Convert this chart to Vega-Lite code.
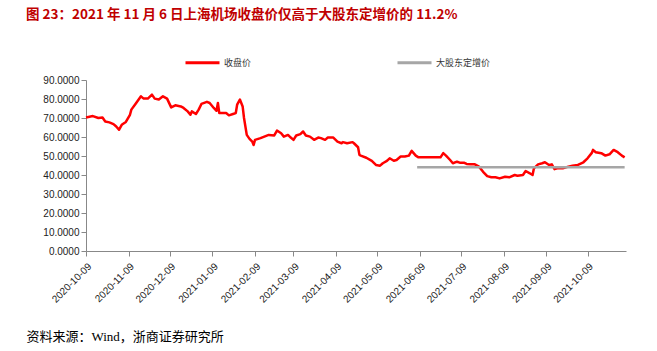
{
  "$schema": "https://vega.github.io/schema/vega-lite/v6.json",
  "autosize": {"type": "none"},
  "width": 540,
  "height": 171,
  "padding": {"left": 86, "top": 80, "right": 31, "bottom": 100},
  "background": "white",
  "title": {
    "text": "图 23：2021 年 11 月 6 日上海机场收盘价仅高于大股东定增价的 11.2%",
    "anchor": "start",
    "frame": "group",
    "dx": -60,
    "offset": 23,
    "font": "Noto Sans CJK SC",
    "fontSize": 13.5,
    "fontWeight": "bold",
    "color": "#C00000"
  },
  "config": {
    "view": {"stroke": null},
    "axis": {"grid": false, "domainColor": "#888888", "tickColor": "#888888", "labelColor": "#222222", "labelFont": "Liberation Sans", "labelFontSize": 10}
  },
  "data": {
    "values": [
      {"date": "2020-10-09", "series": "收盘价", "value": 70.3},
      {"date": "2020-10-14", "series": "收盘价", "value": 71.0},
      {"date": "2020-10-18", "series": "收盘价", "value": 70.0},
      {"date": "2020-10-21", "series": "收盘价", "value": 70.3},
      {"date": "2020-10-23", "series": "收盘价", "value": 68.2},
      {"date": "2020-10-26", "series": "收盘价", "value": 67.7},
      {"date": "2020-10-29", "series": "收盘价", "value": 66.8},
      {"date": "2020-10-31", "series": "收盘价", "value": 65.5},
      {"date": "2020-11-02", "series": "收盘价", "value": 63.8},
      {"date": "2020-11-04", "series": "收盘价", "value": 66.4},
      {"date": "2020-11-07", "series": "收盘价", "value": 67.9},
      {"date": "2020-11-10", "series": "收盘价", "value": 71.7},
      {"date": "2020-11-11", "series": "收盘价", "value": 74.4},
      {"date": "2020-11-14", "series": "收盘价", "value": 77.4},
      {"date": "2020-11-18", "series": "收盘价", "value": 81.4},
      {"date": "2020-11-20", "series": "收盘价", "value": 80.2},
      {"date": "2020-11-23", "series": "收盘价", "value": 80.2},
      {"date": "2020-11-26", "series": "收盘价", "value": 82.3},
      {"date": "2020-11-28", "series": "收盘价", "value": 80.2},
      {"date": "2020-12-01", "series": "收盘价", "value": 79.7},
      {"date": "2020-12-04", "series": "收盘价", "value": 81.4},
      {"date": "2020-12-07", "series": "收盘价", "value": 80.2},
      {"date": "2020-12-10", "series": "收盘价", "value": 75.6},
      {"date": "2020-12-13", "series": "收盘价", "value": 76.7},
      {"date": "2020-12-17", "series": "收盘价", "value": 76.1},
      {"date": "2020-12-19", "series": "收盘价", "value": 75.3},
      {"date": "2020-12-22", "series": "收盘价", "value": 73.5},
      {"date": "2020-12-24", "series": "收盘价", "value": 71.7},
      {"date": "2020-12-25", "series": "收盘价", "value": 73.5},
      {"date": "2020-12-28", "series": "收盘价", "value": 72.1},
      {"date": "2020-12-30", "series": "收盘价", "value": 74.4},
      {"date": "2021-01-01", "series": "收盘价", "value": 77.4},
      {"date": "2021-01-05", "series": "收盘价", "value": 78.5},
      {"date": "2021-01-07", "series": "收盘价", "value": 77.9},
      {"date": "2021-01-10", "series": "收盘价", "value": 75.3},
      {"date": "2021-01-12", "series": "收盘价", "value": 73.8},
      {"date": "2021-01-13", "series": "收盘价", "value": 77.9},
      {"date": "2021-01-14", "series": "收盘价", "value": 72.6},
      {"date": "2021-01-17", "series": "收盘价", "value": 72.6},
      {"date": "2021-01-19", "series": "收盘价", "value": 72.6},
      {"date": "2021-01-21", "series": "收盘价", "value": 71.4},
      {"date": "2021-01-24", "series": "收盘价", "value": 72.1},
      {"date": "2021-01-26", "series": "收盘价", "value": 72.6},
      {"date": "2021-01-27", "series": "收盘价", "value": 77.0},
      {"date": "2021-01-29", "series": "收盘价", "value": 79.7},
      {"date": "2021-01-31", "series": "收盘价", "value": 76.1},
      {"date": "2021-02-01", "series": "收盘价", "value": 70.0},
      {"date": "2021-02-03", "series": "收盘价", "value": 61.1},
      {"date": "2021-02-05", "series": "收盘价", "value": 59.0},
      {"date": "2021-02-07", "series": "收盘价", "value": 57.6},
      {"date": "2021-02-08", "series": "收盘价", "value": 55.8},
      {"date": "2021-02-09", "series": "收盘价", "value": 58.5},
      {"date": "2021-02-13", "series": "收盘价", "value": 59.4},
      {"date": "2021-02-19", "series": "收盘价", "value": 61.1},
      {"date": "2021-02-23", "series": "收盘价", "value": 60.8},
      {"date": "2021-02-25", "series": "收盘价", "value": 63.4},
      {"date": "2021-02-28", "series": "收盘价", "value": 62.0},
      {"date": "2021-03-02", "series": "收盘价", "value": 60.2},
      {"date": "2021-03-05", "series": "收盘价", "value": 61.1},
      {"date": "2021-03-07", "series": "收盘价", "value": 59.7},
      {"date": "2021-03-09", "series": "收盘价", "value": 58.5},
      {"date": "2021-03-11", "series": "收盘价", "value": 60.8},
      {"date": "2021-03-14", "series": "收盘价", "value": 61.5},
      {"date": "2021-03-16", "series": "收盘价", "value": 62.9},
      {"date": "2021-03-18", "series": "收盘价", "value": 60.8},
      {"date": "2021-03-21", "series": "收盘价", "value": 60.2},
      {"date": "2021-03-24", "series": "收盘价", "value": 58.5},
      {"date": "2021-03-27", "series": "收盘价", "value": 59.7},
      {"date": "2021-03-29", "series": "收盘价", "value": 59.4},
      {"date": "2021-04-01", "series": "收盘价", "value": 58.5},
      {"date": "2021-04-03", "series": "收盘价", "value": 59.7},
      {"date": "2021-04-07", "series": "收盘价", "value": 59.7},
      {"date": "2021-04-10", "series": "收盘价", "value": 57.6},
      {"date": "2021-04-13", "series": "收盘价", "value": 56.7},
      {"date": "2021-04-14", "series": "收盘价", "value": 57.3},
      {"date": "2021-04-17", "series": "收盘价", "value": 56.7},
      {"date": "2021-04-21", "series": "收盘价", "value": 57.3},
      {"date": "2021-04-22", "series": "收盘价", "value": 56.7},
      {"date": "2021-04-25", "series": "收盘价", "value": 54.6},
      {"date": "2021-04-26", "series": "收盘价", "value": 50.6},
      {"date": "2021-04-27", "series": "收盘价", "value": 50.2},
      {"date": "2021-05-01", "series": "收盘价", "value": 49.1},
      {"date": "2021-05-05", "series": "收盘价", "value": 47.4},
      {"date": "2021-05-08", "series": "收盘价", "value": 45.3},
      {"date": "2021-05-11", "series": "收盘价", "value": 44.9},
      {"date": "2021-05-13", "series": "收盘价", "value": 46.2},
      {"date": "2021-05-16", "series": "收盘价", "value": 47.4},
      {"date": "2021-05-18", "series": "收盘价", "value": 48.8},
      {"date": "2021-05-21", "series": "收盘价", "value": 47.5},
      {"date": "2021-05-23", "series": "收盘价", "value": 47.9},
      {"date": "2021-05-26", "series": "收盘价", "value": 49.7},
      {"date": "2021-05-29", "series": "收盘价", "value": 49.7},
      {"date": "2021-06-01", "series": "收盘价", "value": 50.2},
      {"date": "2021-06-03", "series": "收盘价", "value": 52.7},
      {"date": "2021-06-06", "series": "收盘价", "value": 50.2},
      {"date": "2021-06-08", "series": "收盘价", "value": 49.3},
      {"date": "2021-06-14", "series": "收盘价", "value": 49.3},
      {"date": "2021-06-20", "series": "收盘价", "value": 49.3},
      {"date": "2021-06-24", "series": "收盘价", "value": 49.3},
      {"date": "2021-06-26", "series": "收盘价", "value": 51.5},
      {"date": "2021-06-28", "series": "收盘价", "value": 50.2},
      {"date": "2021-07-01", "series": "收盘价", "value": 47.9},
      {"date": "2021-07-03", "series": "收盘价", "value": 46.2},
      {"date": "2021-07-06", "series": "收盘价", "value": 47.0},
      {"date": "2021-07-08", "series": "收盘价", "value": 46.5},
      {"date": "2021-07-11", "series": "收盘价", "value": 46.5},
      {"date": "2021-07-13", "series": "收盘价", "value": 45.8},
      {"date": "2021-07-16", "series": "收盘价", "value": 45.6},
      {"date": "2021-07-19", "series": "收盘价", "value": 45.6},
      {"date": "2021-07-22", "series": "收盘价", "value": 44.4},
      {"date": "2021-07-25", "series": "收盘价", "value": 41.7},
      {"date": "2021-07-28", "series": "收盘价", "value": 39.4},
      {"date": "2021-07-31", "series": "收盘价", "value": 38.8},
      {"date": "2021-08-03", "series": "收盘价", "value": 38.8},
      {"date": "2021-08-06", "series": "收盘价", "value": 38.2},
      {"date": "2021-08-10", "series": "收盘价", "value": 39.1},
      {"date": "2021-08-13", "series": "收盘价", "value": 38.8},
      {"date": "2021-08-17", "series": "收盘价", "value": 40.0},
      {"date": "2021-08-19", "series": "收盘价", "value": 39.6},
      {"date": "2021-08-23", "series": "收盘价", "value": 40.0},
      {"date": "2021-08-25", "series": "收盘价", "value": 42.1},
      {"date": "2021-08-28", "series": "收盘价", "value": 40.9},
      {"date": "2021-08-30", "series": "收盘价", "value": 40.0},
      {"date": "2021-08-31", "series": "收盘价", "value": 43.5},
      {"date": "2021-09-03", "series": "收盘价", "value": 45.6},
      {"date": "2021-09-06", "series": "收盘价", "value": 46.2},
      {"date": "2021-09-08", "series": "收盘价", "value": 46.7},
      {"date": "2021-09-11", "series": "收盘价", "value": 45.3},
      {"date": "2021-09-13", "series": "收盘价", "value": 45.6},
      {"date": "2021-09-15", "series": "收盘价", "value": 43.1},
      {"date": "2021-09-17", "series": "收盘价", "value": 43.5},
      {"date": "2021-09-21", "series": "收盘价", "value": 43.5},
      {"date": "2021-09-25", "series": "收盘价", "value": 44.4},
      {"date": "2021-09-28", "series": "收盘价", "value": 44.9},
      {"date": "2021-10-02", "series": "收盘价", "value": 45.3},
      {"date": "2021-10-06", "series": "收盘价", "value": 46.7},
      {"date": "2021-10-09", "series": "收盘价", "value": 48.8},
      {"date": "2021-10-12", "series": "收盘价", "value": 51.5},
      {"date": "2021-10-13", "series": "收盘价", "value": 53.2},
      {"date": "2021-10-15", "series": "收盘价", "value": 52.0},
      {"date": "2021-10-19", "series": "收盘价", "value": 51.5},
      {"date": "2021-10-22", "series": "收盘价", "value": 50.2},
      {"date": "2021-10-25", "series": "收盘价", "value": 50.9},
      {"date": "2021-10-28", "series": "收盘价", "value": 53.2},
      {"date": "2021-10-31", "series": "收盘价", "value": 52.0},
      {"date": "2021-11-03", "series": "收盘价", "value": 50.2},
      {"date": "2021-11-05", "series": "收盘价", "value": 49.3},
      {"date": "2021-06-07", "series": "大股东定增价", "value": 44.09},
      {"date": "2021-11-05", "series": "大股东定增价", "value": 44.09}
    ]
  },
  "mark": {"type": "line", "strokeWidth": 2.5, "strokeJoin": "round"},
  "encoding": {
    "x": {
      "field": "date",
      "type": "temporal",
      "scale": {"type": "utc", "domain": [{"year": 2020, "month": 10, "date": 9, "utc": true}, {"year": 2021, "month": 11, "date": 6, "utc": true}]},
      "axis": {
        "values": [
          {"year": 2020, "month": 10, "date": 9, "utc": true},
          {"year": 2020, "month": 11, "date": 9, "utc": true},
          {"year": 2020, "month": 12, "date": 9, "utc": true},
          {"year": 2021, "month": 1, "date": 9, "utc": true},
          {"year": 2021, "month": 2, "date": 9, "utc": true},
          {"year": 2021, "month": 3, "date": 9, "utc": true},
          {"year": 2021, "month": 4, "date": 9, "utc": true},
          {"year": 2021, "month": 5, "date": 9, "utc": true},
          {"year": 2021, "month": 6, "date": 9, "utc": true},
          {"year": 2021, "month": 7, "date": 9, "utc": true},
          {"year": 2021, "month": 8, "date": 9, "utc": true},
          {"year": 2021, "month": 9, "date": 9, "utc": true},
          {"year": 2021, "month": 10, "date": 9, "utc": true}
        ],
        "labelExpr": "utcFormat(datum.value, '%Y-%m-%d')",
        "labelOverlap": false,
        "labelAngle": -45,
        "labelAlign": "right",
        "labelBaseline": "top",
        "labelFontSize": 10,
        "labelPadding": 5,
        "tickSize": 5,
        "title": "资料来源：Wind，浙商证券研究所",
        "titleFont": "Liberation Serif, Noto Sans CJK SC",
        "titleFontSize": 13,
        "titleFontWeight": "normal",
        "titleColor": "#000000",
        "titleAnchor": "start",
        "titleAlign": "left",
        "titleBaseline": "top",
        "titleX": -60,
        "titleY": 79
      }
    },
    "y": {
      "field": "value",
      "type": "quantitative",
      "scale": {"domain": [0, 90], "nice": false},
      "axis": {"values": [0, 10, 20, 30, 40, 50, 60, 70, 80, 90], "format": ".4f", "title": null, "tickSize": 5, "labelPadding": 2}
    },
    "color": {
      "field": "series",
      "type": "nominal",
      "scale": {"domain": ["收盘价", "大股东定增价"], "range": ["#FF0000", "#A6A6A6"]},
      "legend": {
        "title": null,
        "orient": "none",
        "legendX": 98,
        "legendY": -36,
        "direction": "horizontal",
        "symbolType": "stroke",
        "symbolSize": 1156,
        "symbolStrokeWidth": 3,
        "labelFont": "Noto Sans CJK SC",
        "labelFontSize": 9,
        "labelColor": "#333333",
        "labelOffset": 3,
        "columnPadding": 139
      }
    }
  }
}
